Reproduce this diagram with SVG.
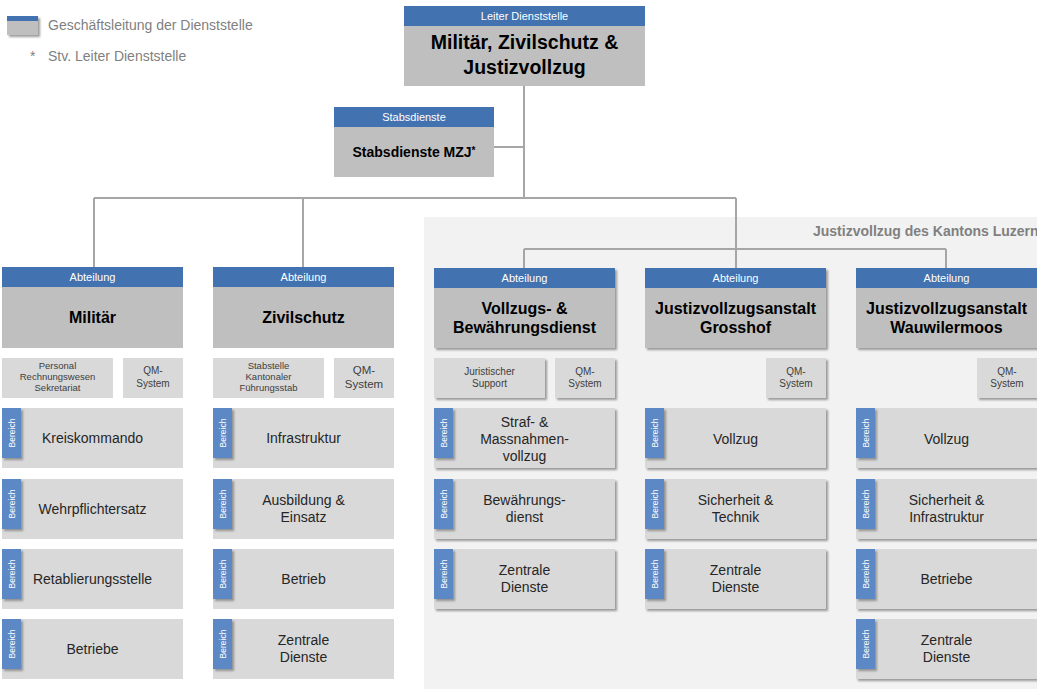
<svg xmlns="http://www.w3.org/2000/svg" width="1037" height="689" viewBox="0 0 1037 689">
<defs>
<filter id="sh" x="-10%" y="-10%" width="130%" height="130%">
<feDropShadow dx="2" dy="2" stdDeviation="1.2" flood-color="#7a7a7a" flood-opacity="0.75"/>
</filter>
<style>
text{font-family:"Liberation Sans",Arial,sans-serif}
.hd{fill:#4272b0}
.bd{fill:#bfbfbf}
.sm{fill:#d9d9d9}
.tab{fill:#5b88c5}
.ht{fill:#fff;font-size:11px;text-anchor:middle}
.bt{fill:#000;font-size:16px;font-weight:bold;text-anchor:middle}
.rt{fill:#262626;font-size:14px;text-anchor:middle}
.st{fill:#404040;font-size:9.5px;text-anchor:middle}
.qt{fill:#404040;font-size:10px;text-anchor:middle}
.tb{fill:#fff;font-size:8.5px;text-anchor:middle}
.lg{fill:#7f7f7f;font-size:14px}
.cn{stroke:#a6a6a6;stroke-width:2;fill:none}
</style>
</defs>
<rect width="1037" height="689" fill="#fff"/>

<g id="legend">
<rect x="7" y="16" width="31" height="19" class="bd" filter="url(#sh)"/>
<rect x="7" y="16" width="31" height="5" class="hd"/>
<text x="48" y="30" class="lg">Geschäftsleitung der Dienststelle</text>
<text x="30" y="61" class="lg">*</text>
<text x="48" y="61" class="lg">Stv. Leiter Dienststelle</text>
</g>

<g id="panel">
<rect x="424" y="217" width="613" height="472" fill="#f2f2f2"/>
<text x="813" y="236" fill="#808080" font-size="14" font-weight="bold">Justizvollzug des Kantons Luzern</text>
</g>

<g id="connectors">
<path class="cn" d="M524 86V198M494 147H524M94 198H736M94 198V267M303 198V267M736 198V268M524 249H946M524 249V268M946 249V268"/>
</g>

<g id="leiter">
<rect x="404" y="26" width="241" height="60" class="bd"/>
<rect x="404" y="6" width="241" height="20" class="hd"/>
<text x="524.5" y="20" class="ht">Leiter Dienststelle</text>
<text x="524.5" y="49" class="bt" style="font-size:19.5px">Militär, Zivilschutz &amp;</text>
<text x="524.5" y="74" class="bt" style="font-size:19.5px">Justizvollzug</text>
</g>

<g id="stabsdienste">
<rect x="334" y="127" width="160" height="50" class="bd"/>
<rect x="334" y="107" width="160" height="20" class="hd"/>
<text x="414" y="121" class="ht">Stabsdienste</text>
<text x="414" y="157" class="bt" style="font-size:14px">Stabsdienste MZJ<tspan font-size="10" dy="-3">*</tspan></text>
</g>

<!-- Militär column -->
<g id="militaer">
<rect x="2" y="287" width="181" height="61" class="bd"/>
<rect x="2" y="267" width="181" height="20" class="hd"/>
<text x="92.5" y="281" class="ht">Abteilung</text>
<text x="92.5" y="323" class="bt">Militär</text>
</g>
<g id="militaer-personal">
<rect x="2" y="358" width="111" height="40" class="sm"/>
<text x="57.5" y="369" class="st">Personal</text>
<text x="57.5" y="380" class="st">Rechnungswesen</text>
<text x="57.5" y="391" class="st">Sekretariat</text>
</g>
<g id="militaer-qm">
<rect x="123" y="358" width="60" height="40" class="sm"/>
<text x="153" y="374" class="qt">QM-</text>
<text x="153" y="387" class="qt">System</text>
</g>
<g id="militaer-b1">
<rect x="2" y="408" width="181" height="60" class="sm"/>
<rect x="2" y="408" width="19" height="50" class="tab" filter="url(#sh)"/>
<text x="14.5" y="433" class="tb" transform="rotate(-90 14.5 433)">Bereich</text>
<text x="92.5" y="443" class="rt">Kreiskommando</text>
</g>
<g id="militaer-b2">
<rect x="2" y="479" width="181" height="60" class="sm"/>
<rect x="2" y="479" width="19" height="50" class="tab" filter="url(#sh)"/>
<text x="14.5" y="504" class="tb" transform="rotate(-90 14.5 504)">Bereich</text>
<text x="92.5" y="514" class="rt">Wehrpflichtersatz</text>
</g>
<g id="militaer-b3">
<rect x="2" y="549" width="181" height="60" class="sm"/>
<rect x="2" y="549" width="19" height="50" class="tab" filter="url(#sh)"/>
<text x="14.5" y="574" class="tb" transform="rotate(-90 14.5 574)">Bereich</text>
<text x="92.5" y="584" class="rt">Retablierungsstelle</text>
</g>
<g id="militaer-b4">
<rect x="2" y="619" width="181" height="60" class="sm"/>
<rect x="2" y="619" width="19" height="50" class="tab" filter="url(#sh)"/>
<text x="14.5" y="644" class="tb" transform="rotate(-90 14.5 644)">Bereich</text>
<text x="92.5" y="654" class="rt">Betriebe</text>
</g>

<!-- Zivilschutz column -->
<g id="zivilschutz">
<rect x="213" y="287" width="181" height="61" class="bd"/>
<rect x="213" y="267" width="181" height="20" class="hd"/>
<text x="303.5" y="281" class="ht">Abteilung</text>
<text x="303.5" y="323" class="bt">Zivilschutz</text>
</g>
<g id="zivilschutz-stab">
<rect x="213" y="358" width="111" height="40" class="sm"/>
<text x="268.5" y="369" class="st">Stabstelle</text>
<text x="268.5" y="380" class="st">Kantonaler</text>
<text x="268.5" y="391" class="st">Führungsstab</text>
</g>
<g id="zivilschutz-qm">
<rect x="334" y="358" width="60" height="40" class="sm"/>
<text x="364" y="374" class="qt" style="font-size:11.5px">QM-</text>
<text x="364" y="388" class="qt" style="font-size:11.5px">System</text>
</g>
<g id="zivilschutz-b1">
<rect x="213" y="408" width="181" height="60" class="sm"/>
<rect x="213" y="408" width="19" height="50" class="tab" filter="url(#sh)"/>
<text x="225.5" y="433" class="tb" transform="rotate(-90 225.5 433)">Bereich</text>
<text x="303.5" y="443" class="rt">Infrastruktur</text>
</g>
<g id="zivilschutz-b2">
<rect x="213" y="479" width="181" height="60" class="sm"/>
<rect x="213" y="479" width="19" height="50" class="tab" filter="url(#sh)"/>
<text x="225.5" y="504" class="tb" transform="rotate(-90 225.5 504)">Bereich</text>
<text x="303.5" y="505" class="rt">Ausbildung &amp;</text>
<text x="303.5" y="522" class="rt">Einsatz</text>
</g>
<g id="zivilschutz-b3">
<rect x="213" y="549" width="181" height="60" class="sm"/>
<rect x="213" y="549" width="19" height="50" class="tab" filter="url(#sh)"/>
<text x="225.5" y="574" class="tb" transform="rotate(-90 225.5 574)">Bereich</text>
<text x="303.5" y="584" class="rt">Betrieb</text>
</g>
<g id="zivilschutz-b4">
<rect x="213" y="619" width="181" height="60" class="sm"/>
<rect x="213" y="619" width="19" height="50" class="tab" filter="url(#sh)"/>
<text x="225.5" y="644" class="tb" transform="rotate(-90 225.5 644)">Bereich</text>
<text x="303.5" y="645" class="rt">Zentrale</text>
<text x="303.5" y="662" class="rt">Dienste</text>
</g>

<!-- Vollzugs- & Bewährungsdienst -->
<g id="vbd" filter="url(#sh)">
<rect x="434" y="288" width="181" height="60" class="bd"/>
<rect x="434" y="268" width="181" height="20" class="hd"/>
</g>
<g id="vbd-text">
<text x="524.5" y="282" class="ht">Abteilung</text>
<text x="524.5" y="314" class="bt">Vollzugs- &amp;</text>
<text x="524.5" y="333" class="bt">Bewährungsdienst</text>
</g>
<g id="vbd-jur">
<rect x="434" y="358" width="111" height="40" class="sm" filter="url(#sh)"/>
<text x="489.5" y="375" class="qt">Juristischer</text>
<text x="489.5" y="387" class="qt">Support</text>
</g>
<g id="vbd-qm">
<rect x="555" y="358" width="60" height="40" class="sm" filter="url(#sh)"/>
<text x="585" y="375" class="qt">QM-</text>
<text x="585" y="387" class="qt">System</text>
</g>
<g id="vbd-b1">
<rect x="434" y="408" width="181" height="60" class="sm" filter="url(#sh)"/>
<rect x="434" y="408" width="19" height="50" class="tab" filter="url(#sh)"/>
<text x="446.5" y="433" class="tb" transform="rotate(-90 446.5 433)">Bereich</text>
<text x="524.5" y="427" class="rt">Straf- &amp;</text>
<text x="524.5" y="444" class="rt">Massnahmen-</text>
<text x="524.5" y="461" class="rt">vollzug</text>
</g>
<g id="vbd-b2">
<rect x="434" y="479" width="181" height="60" class="sm" filter="url(#sh)"/>
<rect x="434" y="479" width="19" height="50" class="tab" filter="url(#sh)"/>
<text x="446.5" y="504" class="tb" transform="rotate(-90 446.5 504)">Bereich</text>
<text x="524.5" y="505" class="rt">Bewährungs-</text>
<text x="524.5" y="522" class="rt">dienst</text>
</g>
<g id="vbd-b3">
<rect x="434" y="549" width="181" height="60" class="sm" filter="url(#sh)"/>
<rect x="434" y="549" width="19" height="50" class="tab" filter="url(#sh)"/>
<text x="446.5" y="574" class="tb" transform="rotate(-90 446.5 574)">Bereich</text>
<text x="524.5" y="575" class="rt">Zentrale</text>
<text x="524.5" y="592" class="rt">Dienste</text>
</g>

<!-- Grosshof -->
<g id="grosshof" filter="url(#sh)">
<rect x="645" y="288" width="181" height="60" class="bd"/>
<rect x="645" y="268" width="181" height="20" class="hd"/>
</g>
<g id="grosshof-text">
<text x="735.5" y="282" class="ht">Abteilung</text>
<text x="735.5" y="314" class="bt">Justizvollzugsanstalt</text>
<text x="735.5" y="333" class="bt">Grosshof</text>
</g>
<g id="grosshof-qm">
<rect x="766" y="358" width="60" height="40" class="sm" filter="url(#sh)"/>
<text x="796" y="375" class="qt">QM-</text>
<text x="796" y="387" class="qt">System</text>
</g>
<g id="grosshof-b1">
<rect x="645" y="408" width="181" height="60" class="sm" filter="url(#sh)"/>
<rect x="645" y="408" width="19" height="50" class="tab" filter="url(#sh)"/>
<text x="657.5" y="433" class="tb" transform="rotate(-90 657.5 433)">Bereich</text>
<text x="735.5" y="444" class="rt">Vollzug</text>
</g>
<g id="grosshof-b2">
<rect x="645" y="479" width="181" height="60" class="sm" filter="url(#sh)"/>
<rect x="645" y="479" width="19" height="50" class="tab" filter="url(#sh)"/>
<text x="657.5" y="504" class="tb" transform="rotate(-90 657.5 504)">Bereich</text>
<text x="735.5" y="505" class="rt">Sicherheit &amp;</text>
<text x="735.5" y="522" class="rt">Technik</text>
</g>
<g id="grosshof-b3">
<rect x="645" y="549" width="181" height="60" class="sm" filter="url(#sh)"/>
<rect x="645" y="549" width="19" height="50" class="tab" filter="url(#sh)"/>
<text x="657.5" y="574" class="tb" transform="rotate(-90 657.5 574)">Bereich</text>
<text x="735.5" y="575" class="rt">Zentrale</text>
<text x="735.5" y="592" class="rt">Dienste</text>
</g>

<!-- Wauwilermoos -->
<g id="wauwilermoos" filter="url(#sh)">
<rect x="856" y="288" width="181" height="60" class="bd"/>
<rect x="856" y="268" width="181" height="20" class="hd"/>
</g>
<g id="wauwilermoos-text">
<text x="946.5" y="282" class="ht">Abteilung</text>
<text x="946.5" y="314" class="bt">Justizvollzugsanstalt</text>
<text x="946.5" y="333" class="bt">Wauwilermoos</text>
</g>
<g id="wauwilermoos-qm">
<rect x="977" y="358" width="60" height="40" class="sm" filter="url(#sh)"/>
<text x="1007" y="375" class="qt">QM-</text>
<text x="1007" y="387" class="qt">System</text>
</g>
<g id="wauwilermoos-b1">
<rect x="856" y="408" width="181" height="60" class="sm" filter="url(#sh)"/>
<rect x="856" y="408" width="19" height="50" class="tab" filter="url(#sh)"/>
<text x="868.5" y="433" class="tb" transform="rotate(-90 868.5 433)">Bereich</text>
<text x="946.5" y="444" class="rt">Vollzug</text>
</g>
<g id="wauwilermoos-b2">
<rect x="856" y="479" width="181" height="60" class="sm" filter="url(#sh)"/>
<rect x="856" y="479" width="19" height="50" class="tab" filter="url(#sh)"/>
<text x="868.5" y="504" class="tb" transform="rotate(-90 868.5 504)">Bereich</text>
<text x="946.5" y="505" class="rt">Sicherheit &amp;</text>
<text x="946.5" y="522" class="rt">Infrastruktur</text>
</g>
<g id="wauwilermoos-b3">
<rect x="856" y="549" width="181" height="60" class="sm" filter="url(#sh)"/>
<rect x="856" y="549" width="19" height="50" class="tab" filter="url(#sh)"/>
<text x="868.5" y="574" class="tb" transform="rotate(-90 868.5 574)">Bereich</text>
<text x="946.5" y="584" class="rt">Betriebe</text>
</g>
<g id="wauwilermoos-b4">
<rect x="856" y="619" width="181" height="60" class="sm" filter="url(#sh)"/>
<rect x="856" y="619" width="19" height="50" class="tab" filter="url(#sh)"/>
<text x="868.5" y="644" class="tb" transform="rotate(-90 868.5 644)">Bereich</text>
<text x="946.5" y="645" class="rt">Zentrale</text>
<text x="946.5" y="662" class="rt">Dienste</text>
</g>
</svg>
